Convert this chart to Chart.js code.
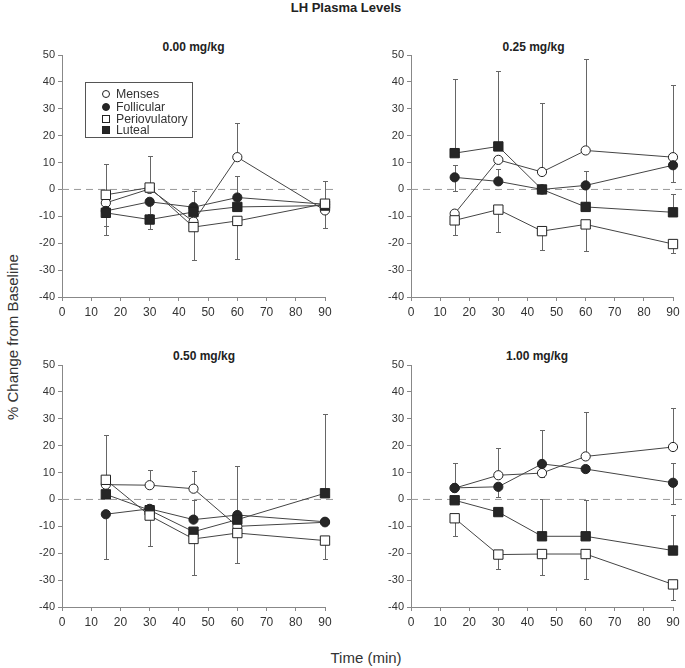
<!DOCTYPE html>
<html><head><meta charset="utf-8">
<script src="https://cdn.jsdelivr.net/npm/chart.js@4.4.1/dist/chart.umd.min.js"></script>
<style>
body{margin:0;width:685px;height:668px;background:#fff;position:relative;overflow:hidden;font-family:'Liberation Sans',Arial,Helvetica,sans-serif;color:#333;}
.lbl{position:absolute;transform:translate(-50%,-50%);white-space:nowrap;}
.b{font-weight:bold;font-size:12px;color:#222;}
#legend{position:absolute;left:85px;top:82px;width:108px;height:56px;border:1px solid #555;box-sizing:border-box;font-size:12.3px;color:#333;}
.row{position:absolute;left:0;height:12px;line-height:12px;}
.mk{position:absolute;left:16px;top:2px;width:8px;height:8px;box-sizing:border-box;border:1px solid #222;}
.row span.tx{position:absolute;left:30px;top:0;}
canvas{position:absolute;}
</style></head>
<body>
<div class="lbl b" style="left:346px;top:7px;font-size:13px;">LH Plasma Levels</div>
<div class="lbl" style="left:12px;top:337px;font-size:15px;transform:translate(-50%,-50%) rotate(-90deg);">% Change from Baseline</div>
<div class="lbl" style="left:366px;top:657px;font-size:15px;">Time (min)</div>
<script>
// ---- data ----
const times = [15, 30, 45, 60, 90];
const seriesNames = ['Menses', 'Follicular', 'Periovulatory', 'Luteal'];
const doseLabels = ['0.00 mg/kg', '0.25 mg/kg', '0.50 mg/kg', '1.00 mg/kg'];
const xTickRange = [0, 90];
const yTickRange = [-40, 50];
const zeroLineX = [0, 93.5];

// 0.00 mg/kg
const menses000 = [-5, 0.2, -12, 12, -7.8];
const follicular000 = [-8, -4.6, -6.6, -3, -5.5];
const periovulatory000 = [-2, 0.7, -14, -11.7, -5.3];
const luteal000 = [-8.7, -11.2, -8.4, -6.5, -6];
const errX000 = [15, 15, 15, 30, 30, 30, 45, 45, 60, 60, 60, 90, 90];
const errFrom000 = [-2, -8.7, -8, 0.7, -11.2, -4.6, -6.6, -14, 12, -3, -11.7, -5.3, -7.8];
const errTo000 = [9.5, -17, -13.5, 12.3, -14.6, -9, -0.4, -26.4, 24.7, 5, -25.9, 3.1, -14.4];

// 0.25 mg/kg
const menses025 = [-9, 11, 6.5, 14.5, 12];
const follicular025 = [4.5, 3, 0, 1.5, 9];
const periovulatory025 = [-11.5, -7.5, -15.5, -13, -20.3];
const luteal025 = [13.5, 16, 0, -6.5, -8.5];
const errX025 = [15, 15, 15, 15, 30, 30, 30, 45, 45, 60, 60, 60, 60, 90, 90, 90, 90];
const errFrom025 = [13.5, 4.5, 4.5, -11.5, 16, 3, -7.5, 6.5, -15.5, 14.5, 1.5, 1.5, -13, 12, 9, -8.5, -20.3];
const errTo025 = [41, 9, -0.5, -17, 44, 7.7, -16, 32, -22.5, 48.5, 7, -4.5, -23, 39, 2.7, -1.6, -23.5];

// 0.50 mg/kg
const menses050 = [5.5, 5.3, 4, -10, -8.5];
const follicular050 = [-5.5, -3.5, -7.5, -5.8, -8.3];
const periovulatory050 = [7.3, -6, -14.7, -12.5, -15.3];
const luteal050 = [1.9, -4, -12, -7.5, 2.3];
const errX050 = [15, 15, 30, 30, 45, 45, 45, 60, 60, 90, 90];
const errFrom050 = [7.3, -5.5, 5.3, -6, 4, -14.7, -7.5, -5.8, -12.5, 2.3, -15.3];
const errTo050 = [24, -22.3, 11, -17.3, 10.6, -28, -0.2, 12.5, -23.5, 31.7, -22.3];

// 1.00 mg/kg
const menses100 = [4.2, 9, 9.8, 16, 19.5];
const follicular100 = [4.3, 4.7, 13.2, 11.3, 6.2];
const periovulatory100 = [-7, -20.5, -20.3, -20.3, -31.6];
const luteal100 = [-0.3, -4.7, -13.7, -13.7, -19];
const errX100 = [15, 15, 30, 30, 30, 45, 45, 45, 45, 60, 60, 60, 90, 90, 90, 90, 90];
const errFrom100 = [4.3, -7, 9, 4.7, -20.5, 13.2, 9.8, -13.7, -20.3, 16, -13.7, -20.3, 19.5, 6.2, 6.2, -19, -31.6];
const errTo100 = [13.6, -13.5, 19.2, 0.8, -25.8, 26, 8.2, 0, -28.2, 32.5, -0.3, -29.5, 34, 13.6, -1.8, -5.6, -37.5];

// ---- layout ----
const FONT = "'Liberation Sans', Arial, Helvetica, sans-serif";
const panels = [
  {title: doseLabels[0], left: 0,   top: 30,  w: 340, padR: 15, tx: 193.5, ty: 47,
   series: [menses000, follicular000, periovulatory000, luteal000], ex: errX000, ef: errFrom000, et: errTo000},
  {title: doseLabels[1], left: 349, top: 30,  w: 336, padR: 12, tx: 533.5, ty: 47,
   series: [menses025, follicular025, periovulatory025, luteal025], ex: errX025, ef: errFrom025, et: errTo025},
  {title: doseLabels[2], left: 0,   top: 340, w: 340, padR: 15, tx: 204, ty: 356,
   series: [menses050, follicular050, periovulatory050, luteal050], ex: errX050, ef: errFrom050, et: errTo050},
  {title: doseLabels[3], left: 349, top: 340, w: 336, padR: 12, tx: 537, ty: 356,
   series: [menses100, follicular100, periovulatory100, luteal100], ex: errX100, ef: errFrom100, et: errTo100}
];

const markStyles = [
  {style: 'circle', r: 4.6, fill: '#ffffff', order: 3},
  {style: 'circle', r: 4.6, fill: '#262626', order: 2},
  {style: 'rect',   r: 6.6, fill: '#ffffff', order: 0},
  {style: 'rect',   r: 6.6, fill: '#262626', order: 1}
];

function errPlugin(p) {
  return {
    id: 'errbars',
    beforeDatasetsDraw(chart) {
      const {ctx, scales: {x, y}} = chart;
      ctx.save();
      ctx.strokeStyle = '#666';
      ctx.lineWidth = 1;
      for (let i = 0; i < p.ex.length; i++) {
        const px = Math.round(x.getPixelForValue(p.ex[i])) + 0.5;
        const y1 = y.getPixelForValue(p.ef[i]);
        const y2 = Math.round(y.getPixelForValue(p.et[i])) + 0.5;
        ctx.beginPath();
        ctx.moveTo(px, y1); ctx.lineTo(px, y2);
        ctx.moveTo(px - 2.5, y2); ctx.lineTo(px + 2.5, y2);
        ctx.stroke();
      }
      ctx.restore();
    }
  };
}

panels.forEach(p => {
  const t = document.createElement('div');
  t.className = 'lbl b';
  t.style.left = p.tx + 'px'; t.style.top = p.ty + 'px';
  t.textContent = p.title;
  document.body.appendChild(t);

  const cv = document.createElement('canvas');
  cv.width = p.w; cv.height = 300;
  cv.style.left = p.left + 'px'; cv.style.top = p.top + 'px';
  cv.style.width = p.w + 'px'; cv.style.height = '300px';
  document.body.appendChild(cv);

  const datasets = seriesNames.map((name, i) => ({
    label: name,
    data: times.map((tm, j) => ({x: tm, y: p.series[i][j]})),
    borderColor: '#444',
    borderWidth: 1,
    pointStyle: markStyles[i].style,
    pointRadius: markStyles[i].r,
    pointBackgroundColor: markStyles[i].fill,
    pointBorderColor: '#222',
    pointBorderWidth: 1,
    tension: 0,
    fill: false,
    order: markStyles[i].order,
    clip: false
  }));
  datasets.push({
    label: 'zero',
    data: zeroLineX.map(v => ({x: v, y: 0})),
    borderColor: '#999',
    borderWidth: 1,
    borderDash: [7, 5],
    pointRadius: 0,
    fill: false,
    order: 10,
    clip: false
  });

  const axisCommon = {
    grid: {drawOnChartArea: false, drawTicks: true, tickLength: 4, color: '#888'},
    border: {color: '#888', width: 1}
  };

  new Chart(cv, {
    type: 'line',
    data: {datasets},
    options: {
      responsive: false,
      animation: false,
      events: [],
      layout: {padding: {top: 25, right: p.padR, left: 0, bottom: 0}},
      plugins: {legend: {display: false}, tooltip: {enabled: false}, title: {display: false}},
      scales: {
        x: Object.assign({
          type: 'linear', min: xTickRange[0], max: xTickRange[1],
          ticks: {stepSize: 10, color: '#333', font: {size: 12, family: FONT}, padding: 4, maxRotation: 0, autoSkip: false},
          afterFit(s) { s.height = 33; }
        }, axisCommon),
        y: Object.assign({
          type: 'linear', min: yTickRange[0], max: yTickRange[1],
          ticks: {stepSize: 10, color: '#333', font: {size: 11, family: FONT}, padding: 3},
          afterFit(s) { s.width = 62; }
        }, axisCommon)
      }
    },
    plugins: [errPlugin(p)]
  });
});

// legend (panel 1)
const lg = document.createElement('div');
lg.id = 'legend';
const rowTops = [5, 18, 30, 41];
seriesNames.forEach((n, i) => {
  const r = document.createElement('div');
  r.className = 'row';
  r.style.top = rowTops[i] + 'px';
  const m = document.createElement('span');
  m.className = 'mk';
  m.style.background = markStyles[i].fill;
  if (markStyles[i].style === 'circle') m.style.borderRadius = '50%';
  const tx = document.createElement('span');
  tx.className = 'tx';
  tx.textContent = n;
  r.appendChild(m); r.appendChild(tx);
  lg.appendChild(r);
});
document.body.appendChild(lg);
</script>
</body></html>
